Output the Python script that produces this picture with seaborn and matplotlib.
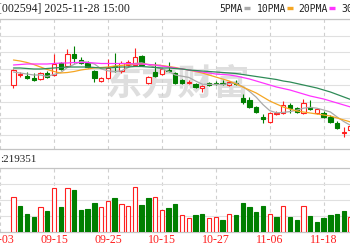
import matplotlib
matplotlib.use("Agg")
import matplotlib.pyplot as plt
from matplotlib.lines import Line2D
import seaborn as sns
import numpy as np
import pandas as pd

# ---------------- data ----------------
dates = ["09-05", "09-08", "09-09", "09-10", "09-11", "09-12", "09-15", "09-16", "09-17", "09-18",
         "09-19", "09-22", "09-23", "09-24", "09-25", "09-26", "09-29", "09-30", "10-09", "10-10",
         "10-13", "10-14", "10-15", "10-16", "10-17", "10-20", "10-21", "10-22", "10-23", "10-24",
         "10-27", "10-28", "10-29", "10-30", "10-31", "11-03", "11-04", "11-05", "11-06", "11-07",
         "11-10", "11-11", "11-12", "11-13", "11-14", "11-17", "11-18", "11-19", "11-20", "11-21",
         "11-24"]

open_ = [105.00, 106.05, 105.90, 105.70, 105.60, 106.20, 106.00, 107.20, 106.90, 108.10,
         107.50, 107.20, 106.40, 105.40, 105.70, 106.90, 106.40, 107.00, 107.00, 107.90,
         105.20, 106.30, 106.10, 106.55, 106.20, 105.50, 105.25, 105.10, 104.70, 105.15,
         105.25, 105.25, 105.00, 105.25, 103.70, 103.50, 102.80, 101.80, 101.30, 102.15,
         102.20, 103.00, 102.70, 102.20, 102.80, 102.20, 102.20, 101.80, 101.20, 100.25,
         100.50]
close = [106.50, 106.10, 105.70, 105.50, 106.20, 105.80, 107.10, 106.60, 108.10, 107.70,
         107.20, 106.80, 105.70, 105.70, 106.70, 106.80, 107.20, 107.30, 107.80, 107.00,
         105.80, 105.90, 106.60, 106.45, 105.20, 105.20, 105.35, 104.80, 104.90, 105.05,
         105.15, 105.15, 105.30, 105.15, 103.30, 102.80, 102.30, 101.60, 102.20, 102.25,
         103.00, 102.70, 102.30, 103.20, 102.60, 102.60, 101.80, 101.30, 100.70, 100.35,
         100.90]
high = [106.60, 106.30, 106.30, 106.20, 106.30, 106.40, 108.10, 107.30, 108.60, 108.90,
        107.80, 107.40, 106.50, 105.80, 107.60, 108.20, 107.40, 107.50, 108.70, 108.00,
        105.90, 107.30, 106.70, 107.30, 106.30, 105.60, 105.50, 105.20, 105.00, 105.30,
        105.40, 105.50, 105.40, 105.50, 104.10, 103.80, 102.90, 102.10, 102.30, 102.40,
        103.40, 103.20, 102.80, 103.60, 103.50, 102.70, 102.40, 102.00, 101.40, 100.80,
        101.10]
low = [104.70, 105.80, 105.60, 105.40, 105.50, 105.70, 105.90, 106.50, 106.80, 107.20,
       107.10, 106.70, 105.30, 105.30, 105.60, 106.30, 106.20, 106.90, 106.90, 106.90,
       105.10, 105.80, 106.00, 106.30, 105.10, 105.10, 105.10, 104.70, 104.30, 104.90,
       105.00, 105.00, 104.90, 105.00, 103.10, 102.70, 102.20, 101.20, 101.20, 102.00,
       102.10, 102.20, 102.20, 102.10, 102.50, 102.10, 101.70, 101.20, 100.60, 99.80,
       100.40]

ma5 = [106.30, 106.20, 106.10, 106.00, 106.00, 105.86, 106.06, 106.24, 106.76, 107.06,
       107.34, 107.28, 107.10, 106.62, 106.42, 106.34, 106.42, 106.74, 107.16, 107.22,
       107.02, 106.76, 106.62, 106.36, 106.00, 105.88, 105.76, 105.40, 105.08, 105.06,
       105.06, 105.04, 105.14, 105.20, 104.84, 104.36, 103.78, 103.04, 102.44, 102.22,
       102.26, 102.34, 102.48, 102.68, 102.76, 102.68, 102.50, 102.30, 101.80, 101.34,
       100.96]
ma10 = [107.50, 107.40, 107.25, 107.05, 106.80, 106.55, 106.35, 106.20, 106.25, 106.35,
        106.50, 106.60, 106.70, 106.75, 106.80, 106.90, 106.95, 107.05, 107.10, 107.10,
        107.05, 107.00, 106.95, 106.85, 106.75, 106.60, 106.50, 106.35, 106.20, 106.00,
        105.80, 105.60, 105.40, 105.10, 104.80, 104.50, 104.20, 103.80, 103.40, 103.10,
        102.80, 102.60, 102.40, 102.30, 102.20, 102.10, 102.00, 101.90, 101.70, 101.50,
        101.30]
ma20 = [107.00, 107.05, 107.10, 107.10, 107.10, 107.10, 107.15, 107.20, 107.20, 107.25,
        107.25, 107.25, 107.20, 107.15, 107.15, 107.15, 107.15, 107.15, 107.10, 107.10,
        107.05, 107.00, 106.90, 106.80, 106.70, 106.60, 106.50, 106.40, 106.30, 106.20,
        106.10, 106.05, 106.00, 105.90, 105.75, 105.60, 105.40, 105.20, 105.00, 104.80,
        104.65, 104.50, 104.30, 104.10, 103.90, 103.75, 103.60, 103.40, 103.20, 103.00,
        102.80]
ma30 = [106.70, 106.70, 106.65, 106.60, 106.60, 106.65, 106.70, 106.75, 106.80, 106.80,
        106.80, 106.80, 106.75, 106.70, 106.70, 106.75, 106.80, 106.80, 106.85, 106.85,
        106.80, 106.75, 106.70, 106.70, 106.65, 106.60, 106.50, 106.45, 106.40, 106.35,
        106.30, 106.25, 106.20, 106.15, 106.05, 105.95, 105.85, 105.75, 105.65, 105.55,
        105.40, 105.30, 105.15, 105.00, 104.85, 104.70, 104.50, 104.30, 104.05, 103.80,
        103.55]

volume = [350000, 260000, 180000, 150000, 250000, 210000, 440000, 250000, 440000, 420000,
          220000, 230000, 290000, 250000, 310000, 340000, 280000, 260000, 450000, 270000,
          340000, 350000, 220000, 240000, 280000, 170000, 140000, 170000, 180000, 140000,
          150000, 120000, 180000, 170000, 290000, 250000, 200000, 260000, 180000, 150000,
          260000, 150000, 120000, 260000, 160000, 100000, 140000, 170000, 180000, 210000,
          150000]
vol_up = [1, 0, 0, 0, 1, 0, 1, 0, 1, 0,
          0, 0, 0, 1, 1, 0, 1, 1, 1, 0,
          0, 1, 1, 0, 0, 1, 1, 0, 0, 1,
          1, 0, 1, 0, 0, 0, 0, 0, 1, 0,
          1, 0, 0, 1, 0, 0, 0, 0, 0, 0,
          1]

tick_labels = ["09-03", "09-15", "09-25", "10-15", "10-27", "11-06", "11-18"]
title_text = "[002594] 2025-11-28 15:00"
vol_text = ":219351"
legend_labels = ["5PMA", "10PMA", "20PMA", "30PMA"]
watermark = "东方财富"

# ---------------- style ----------------
RED = "#ff2020"
GREEN = "#007f00"
C5, C10, C20, C30 = "#aaaaaa", "#f5a623", "#ff33ff", "#2e8b57"
GRID = "#e0e0e0"
SPINE = "#c4c4c4"

sns.set_theme(style="white")
plt.rcParams["font.family"] = ["Liberation Serif", "DejaVu Sans"]

W, H = 350, 250
fig = plt.figure(figsize=(W / 100, H / 100), dpi=100)
fig.patch.set_facecolor("white")


def fy(py):
    return 1 - py / H


ax_p = fig.add_axes([0, fy(149), 1, (149 - 19) / H])
ax_v = fig.add_axes([0, fy(232), 1, (232 - 168) / H])

x = np.arange(len(dates))
xlim = (-1.4 / 6.985, (W - 1.4) / 6.985)
tick_pos = [-2, 6, 14, 22, 30, 38, 46]

df = pd.DataFrame({"x": x, "open": open_, "close": close, "high": high, "low": low,
                   "ma5": ma5, "ma10": ma10, "ma20": ma20, "ma30": ma30,
                   "volume": volume, "vol_up": vol_up})

# watermark
ax_p.text(0.51, 0.50, watermark, transform=ax_p.transAxes, ha="center", va="center",
          fontsize=26, color="#dedede", fontweight="bold", style="italic",
          family=["Noto Sans CJK SC"], zorder=0)

# candles
bw = 0.64
for _, r in df.iterrows():
    up = r["close"] >= r["open"]
    col = RED if up else GREEN
    lo_b, hi_b = min(r["open"], r["close"]), max(r["open"], r["close"])
    ax_p.vlines(r["x"], r["low"], r["high"], color=col, lw=0.8, zorder=2)
    hgt = max(hi_b - lo_b, 0.02)
    ax_p.bar(r["x"], hgt, bottom=lo_b, width=bw,
             facecolor="white" if up else GREEN, edgecolor=col, lw=0.8, zorder=3)

# moving averages
for col, c in [("ma5", C5), ("ma10", C10), ("ma20", C20), ("ma30", C30)]:
    sns.lineplot(data=df, x="x", y=col, ax=ax_p, color=c, lw=0.9, zorder=4)

ax_p.set_xlim(*xlim)
ax_p.set_ylim(98.6, 111.6)
ax_p.set_yticks(111.6 - 1.65 * np.arange(8))
ax_p.set_xticks(tick_pos)
ax_p.tick_params(left=False, bottom=False, labelleft=False, labelbottom=False, length=0)
ax_p.grid(axis="y", color=GRID, lw=0.8)
ax_p.grid(axis="x", color="#cfcfcf", lw=0.8, linestyle=(0, (3, 3)))
ax_p.set_xlabel("")
ax_p.set_ylabel("")
for s in ["left", "right"]:
    ax_p.spines[s].set_visible(False)
for s in ["top", "bottom"]:
    ax_p.spines[s].set_color(SPINE)
    ax_p.spines[s].set_linewidth(0.9)

# volume
for _, r in df.iterrows():
    up = r["vol_up"] == 1
    ax_v.bar(r["x"], r["volume"], width=bw, facecolor="white" if up else GREEN,
             edgecolor=RED if up else GREEN, lw=0.8, zorder=3)
ax_v.set_xlim(*xlim)
ax_v.set_ylim(0, 640000)
ax_v.set_yticks([160000, 320000, 480000])
ax_v.set_xticks(tick_pos)
ax_v.set_xticklabels(tick_labels, color=RED, fontsize=8.6)
ax_v.tick_params(left=False, bottom=False, labelleft=False, length=0, pad=1.5)
ax_v.grid(axis="y", color=GRID, lw=0.8)
ax_v.grid(axis="x", color="#cfcfcf", lw=0.8, linestyle=(0, (3, 3)))
for s in ["left", "right"]:
    ax_v.spines[s].set_visible(False)
for s in ["top", "bottom"]:
    ax_v.spines[s].set_color(SPINE)
    ax_v.spines[s].set_linewidth(0.9)

# header texts
fig.text(-1.5 / W, fy(8.5), title_text, ha="left", va="center", fontsize=8.6, color="#222222")
fig.text(0 / W, fy(159), vol_text, ha="left", va="center", fontsize=8.0, color="#222222")

leg_x = [219, 257, 298, 341]
leg_c = [C5, C10, C20, C30]
for lx, lab, c in zip(leg_x, legend_labels, leg_c):
    fig.text(lx / W, fy(8.5), lab, ha="left", va="center", fontsize=7.0, color="#222222",
             family=["DejaVu Sans Mono"])
leg_dash = [244, 287, 329]
for dx, c in zip(leg_dash, leg_c[:3]):
    fig.add_artist(Line2D([dx / W, (dx + 6) / W], [fy(8), fy(8)], color=c, lw=2.4,
                          transform=fig.transFigure, solid_capstyle="butt"))

fig.savefig("out.png", dpi=100, facecolor="white")
